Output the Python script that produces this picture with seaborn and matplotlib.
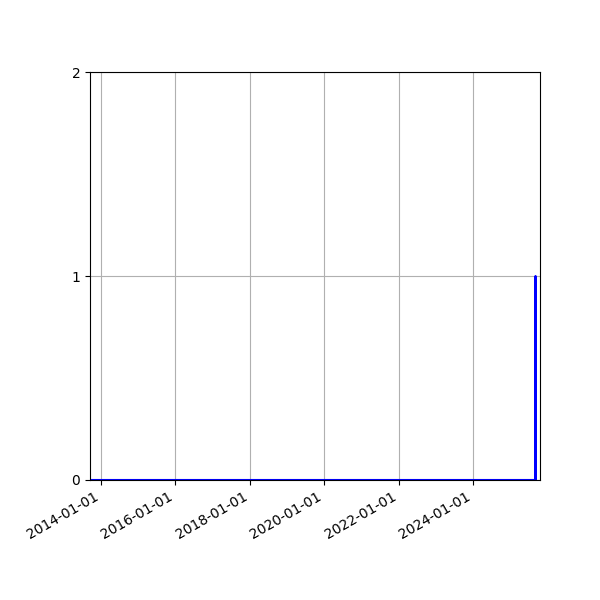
import matplotlib
import matplotlib.dates as mdates
import pandas as pd
import seaborn as sns

matplotlib.use("Agg")
import matplotlib.pyplot as plt  # noqa: E402

dates = ["2013-09-15", "2025-09-05", "2025-09-06", "2025-09-07"]
counts = [0, 0, 1, 0]
x_start = "2013-09-15"
x_end = "2025-10-20"
y_ticks = [0, 1, 2]

frame = pd.DataFrame({"date": pd.to_datetime(dates), "count": counts})

fig, ax = plt.subplots(figsize=(6, 6), dpi=100)
sns.lineplot(data=frame, x="date", y="count", color="blue", linewidth=1.5, ax=ax)
ax.set_xlim(pd.Timestamp(x_start), pd.Timestamp(x_end))
ax.set_ylim(0, 2)
ax.set_yticks(y_ticks)
ax.xaxis.set_major_locator(mdates.YearLocator(2))
ax.xaxis.set_major_formatter(mdates.DateFormatter("%Y-%m-%d"))
ax.set_xlabel("")
ax.set_ylabel("")
ax.grid(True)
fig.autofmt_xdate()
fig.subplots_adjust(left=0.15, right=0.9, top=0.88, bottom=0.2)
fig.savefig("out.png")
plt.close(fig)
